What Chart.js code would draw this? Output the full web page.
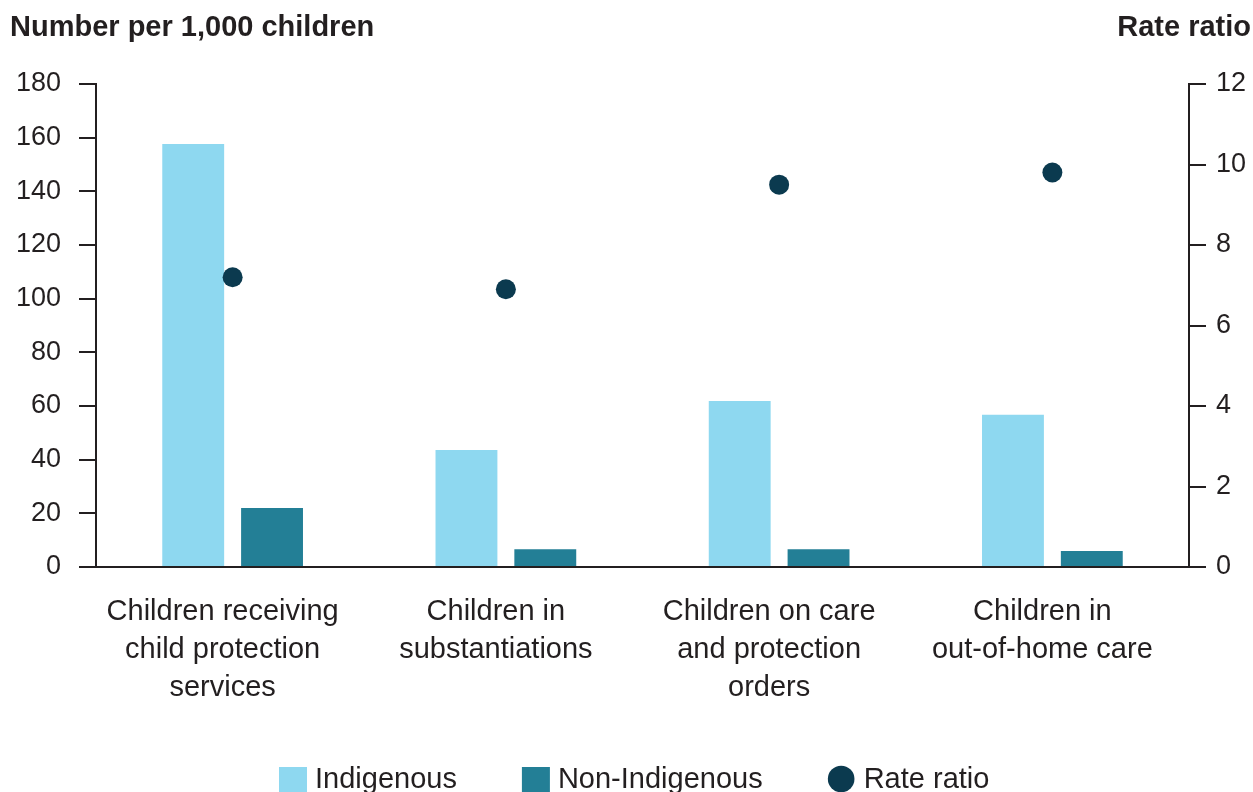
<!DOCTYPE html>
<html lang="en">
<head>
  <meta charset="UTF-8">
  <title>Child protection rates</title>
  <style>
    html, body {
      margin: 0;
      padding: 0;
      background: #fff;
      overflow: hidden;
    }
    .chart-container {
      position: relative;
      width: 1253px;
      height: 792px;
    }
  </style>
  <script src="https://cdn.jsdelivr.net/npm/chart.js"></script>
</head>
<body>
  <div class="chart-container">
    <canvas id="chart"></canvas>
  </div>

  <script>
    // Data
    const categories = [
      ['Children receiving', 'child protection', 'services'],
      ['Children in', 'substantiations'],
      ['Children on care', 'and protection', 'orders'],
      ['Children in', 'out-of-home care']
    ];
    const indigenous = [157.6, 43.6, 61.9, 56.7];
    const nonIndigenous = [22.0, 6.6, 6.6, 6.0];
    const rateRatio = [7.2, 6.9, 9.5, 9.8];
    const leftTicks = [0, 20, 40, 60, 80, 100, 120, 140, 160, 180];
    const rightTicks = [0, 2, 4, 6, 8, 10, 12];
    const legendOrder = ['Indigenous', 'Non-Indigenous', 'Rate ratio'];

    const textColor = '#231f20';
    const axisColor = '#231f20';
    const fontFamily = '"Liberation Sans", Arial, sans-serif';

    // header texts above each axis
    const headers = {
      id: 'headers',
      afterDraw(chart) {
        const ctx = chart.ctx;
        ctx.save();
        ctx.fillStyle = textColor;
        ctx.font = 'bold 29px ' + fontFamily;
        ctx.textBaseline = 'middle';
        ctx.textAlign = 'left';
        ctx.fillText('Number per 1,000 children', 10, 28);
        ctx.textAlign = 'right';
        ctx.fillText('Rate ratio', 1251, 28);
        ctx.restore();
      }
    };

    // legend row at the bottom, partly cut off by the page edge like the original
    const bottomLegend = {
      id: 'bottomLegend',
      afterDraw(chart) {
        const ctx = chart.ctx;
        ctx.save();
        ctx.font = '29px ' + fontFamily;
        ctx.textBaseline = 'alphabetic';
        ctx.textAlign = 'left';
        let x = 279;
        legendOrder.forEach(name => {
          const ds = chart.data.datasets.find(d => d.label === name);
          ctx.fillStyle = ds.backgroundColor;
          if (ds.type === 'line') {
            ctx.beginPath();
            ctx.arc(x + 13.5, 779, 13.3, 0, Math.PI * 2);
            ctx.fill();
          } else {
            ctx.fillRect(x, 767, 28, 30);
          }
          x += 36;
          ctx.fillStyle = textColor;
          ctx.fillText(name, x, 788);
          x += ctx.measureText(name).width + 65;
        });
        ctx.restore();
      }
    };

    new Chart(document.getElementById('chart'), {
      data: {
        labels: categories,
        datasets: [
          {
            type: 'line',
            label: 'Rate ratio',
            data: rateRatio,
            yAxisID: 'y2',
            showLine: false,
            pointRadius: 10,
            pointHoverRadius: 10,
            pointStyle: 'circle',
            backgroundColor: '#0b3a4f',
            borderColor: '#0b3a4f',
            borderWidth: 0,
            order: 0
          },
          {
            type: 'bar',
            label: 'Indigenous',
            data: indigenous,
            yAxisID: 'y',
            backgroundColor: '#8ed8f0',
            barPercentage: 0.785,
            categoryPercentage: 0.577,
            order: 1
          },
          {
            type: 'bar',
            label: 'Non-Indigenous',
            data: nonIndigenous,
            yAxisID: 'y',
            backgroundColor: '#237f96',
            barPercentage: 0.785,
            categoryPercentage: 0.577,
            order: 1
          }
        ]
      },
      options: {
        responsive: true,
        maintainAspectRatio: false,
        animation: false,
        layout: {
          padding: { top: 84, left: 0, right: 0, bottom: 0 }
        },
        plugins: {
          tooltip: { enabled: false },
          legend: { display: false }
        },
        scales: {
          x: {
            grid: { display: false, drawTicks: false },
            border: { display: true, color: axisColor, width: 2 },
            ticks: {
              color: textColor,
              padding: 26,
              labelOffset: -10,
              maxRotation: 0,
              autoSkip: false,
              font: { family: fontFamily, size: 29, lineHeight: 1.31 }
            },
            afterFit(scale) { scale.height = 225; }
          },
          y: {
            position: 'left',
            min: 0,
            max: 180,
            afterBuildTicks(scale) { scale.ticks = leftTicks.map(v => ({ value: v })); },
            grid: {
              drawOnChartArea: false,
              drawTicks: true,
              tickLength: 17,
              color: axisColor,
              lineWidth: 2
            },
            border: { display: true, color: axisColor, width: 2 },
            ticks: {
              color: textColor,
              padding: 18,
              font: { family: fontFamily, size: 27 }
            },
            afterFit(scale) { scale.width = 96; }
          },
          y2: {
            position: 'right',
            min: 0,
            max: 12,
            afterBuildTicks(scale) { scale.ticks = rightTicks.map(v => ({ value: v })); },
            grid: {
              drawOnChartArea: false,
              drawTicks: true,
              tickLength: 17,
              color: axisColor,
              lineWidth: 2
            },
            border: { display: true, color: axisColor, width: 2 },
            ticks: {
              color: textColor,
              padding: 10,
              font: { family: fontFamily, size: 27 }
            },
            afterFit(scale) { scale.width = 64; }
          }
        }
      },
      plugins: [headers, bottomLegend]
    });
  </script>
</body>
</html>
